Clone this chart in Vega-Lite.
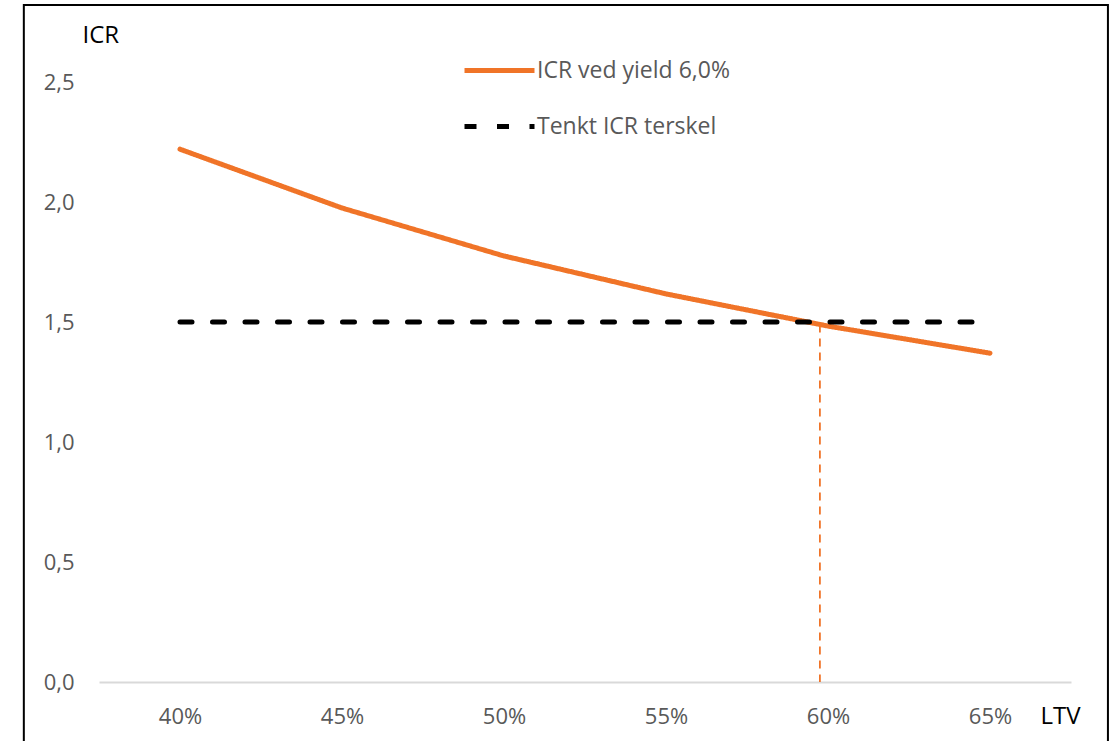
{
  "$schema": "https://vega.github.io/schema/vega-lite/v6.json",
  "autosize": {"type": "none"},
  "width": 972,
  "height": 600,
  "padding": {"left": 99, "top": 82, "right": 44, "bottom": 59},
  "background": "white",
  "config": {
    "view": {"stroke": null},
    "font": "Open Sans",
    "legend": {
      "orient": "none",
      "legendX": 363,
      "legendY": -49,
      "title": null,
      "symbolType": "stroke",
      "symbolSize": 4900,
      "symbolStrokeWidth": 5,
      "labelFontSize": 23,
      "labelColor": "#595959",
      "labelFont": "Open Sans",
      "labelOffset": 0,
      "labelLimit": 0,
      "rowPadding": 6
    }
  },
  "datasets": {
    "series": [
      {"series": "ICR ved yield 6,0%", "ltv": 40, "icr": 2.22},
      {"series": "ICR ved yield 6,0%", "ltv": 45, "icr": 1.975},
      {"series": "ICR ved yield 6,0%", "ltv": 50, "icr": 1.775},
      {"series": "ICR ved yield 6,0%", "ltv": 55, "icr": 1.617},
      {"series": "ICR ved yield 6,0%", "ltv": 60, "icr": 1.483},
      {"series": "ICR ved yield 6,0%", "ltv": 65, "icr": 1.37},
      {"series": "Tenkt ICR terskel", "ltv": 40, "icr": 1.5},
      {"series": "Tenkt ICR terskel", "ltv": 45, "icr": 1.5},
      {"series": "Tenkt ICR terskel", "ltv": 50, "icr": 1.5},
      {"series": "Tenkt ICR terskel", "ltv": 55, "icr": 1.5},
      {"series": "Tenkt ICR terskel", "ltv": 60, "icr": 1.5},
      {"series": "Tenkt ICR terskel", "ltv": 65, "icr": 1.5}
    ],
    "marker": [
      {"ltv": 59.75, "top": 1.49, "bottom": 0}
    ],
    "frame": [
      {"x1": 35.18, "x2": 68.64, "y1": 2.821, "y2": -0.3}
    ]
  },
  "layer": [
    {
      "data": {"name": "frame"},
      "mark": {"type": "rect", "fill": null, "stroke": "#000000", "strokeWidth": 2, "clip": false},
      "encoding": {
        "x": {"field": "x1", "type": "quantitative", "scale": {"domain": [37.5, 67.5], "nice": false, "zero": false}},
        "x2": {"field": "x2"},
        "y": {"field": "y1", "type": "quantitative", "scale": {"domain": [0, 2.5], "nice": false}},
        "y2": {"field": "y2"}
      }
    },
    {
      "data": {"name": "marker"},
      "mark": {"type": "rule", "color": "#F07428", "strokeWidth": 1.8, "strokeDash": [8, 6]},
      "encoding": {
        "x": {"field": "ltv", "type": "quantitative"},
        "y": {"field": "top", "type": "quantitative"},
        "y2": {"field": "bottom"}
      }
    },
    {
      "data": {"name": "series"},
      "mark": {"type": "line", "strokeWidth": 5, "strokeCap": "round", "strokeJoin": "round"},
      "encoding": {
        "x": {
          "field": "ltv",
          "type": "quantitative",
          "scale": {"domain": [37.5, 67.5], "nice": false, "zero": false},
          "axis": {
            "values": [40, 45, 50, 55, 60, 65],
            "labelExpr": "datum.value + '%'",
            "ticks": false,
            "grid": false,
            "domain": true,
            "domainColor": "#d9d9d9",
            "domainWidth": 2,
            "labelFontSize": 22,
            "labelColor": "#595959",
            "labelPadding": 24,
            "title": "LTV",
            "titleFontSize": 24,
            "titleFontWeight": "normal",
            "titleColor": "#000000",
            "titleAlign": "left",
            "titleBaseline": "middle",
            "titleX": 941,
            "titleY": 34
          }
        },
        "y": {
          "field": "icr",
          "type": "quantitative",
          "scale": {"domain": [0, 2.5], "nice": false},
          "axis": {
            "values": [0, 0.5, 1, 1.5, 2, 2.5],
            "labelExpr": "replace(format(datum.value, '.1f'), '.', ',')",
            "ticks": false,
            "grid": false,
            "domain": false,
            "labelFontSize": 22,
            "labelColor": "#595959",
            "labelPadding": 25,
            "title": "ICR",
            "titleAngle": 0,
            "titleFontSize": 24,
            "titleFontWeight": "normal",
            "titleColor": "#000000",
            "titleAlign": "left",
            "titleBaseline": "middle",
            "titleX": -17,
            "titleY": -47
          }
        },
        "color": {
          "field": "series",
          "type": "nominal",
          "scale": {"domain": ["ICR ved yield 6,0%", "Tenkt ICR terskel"], "range": ["#F07428", "#000000"]},
          "legend": {}
        },
        "strokeDash": {
          "field": "series",
          "type": "nominal",
          "scale": {"domain": ["ICR ved yield 6,0%", "Tenkt ICR terskel"], "range": [[1, 0], [12, 20.5]]},
          "legend": {}
        }
      }
    }
  ]
}
